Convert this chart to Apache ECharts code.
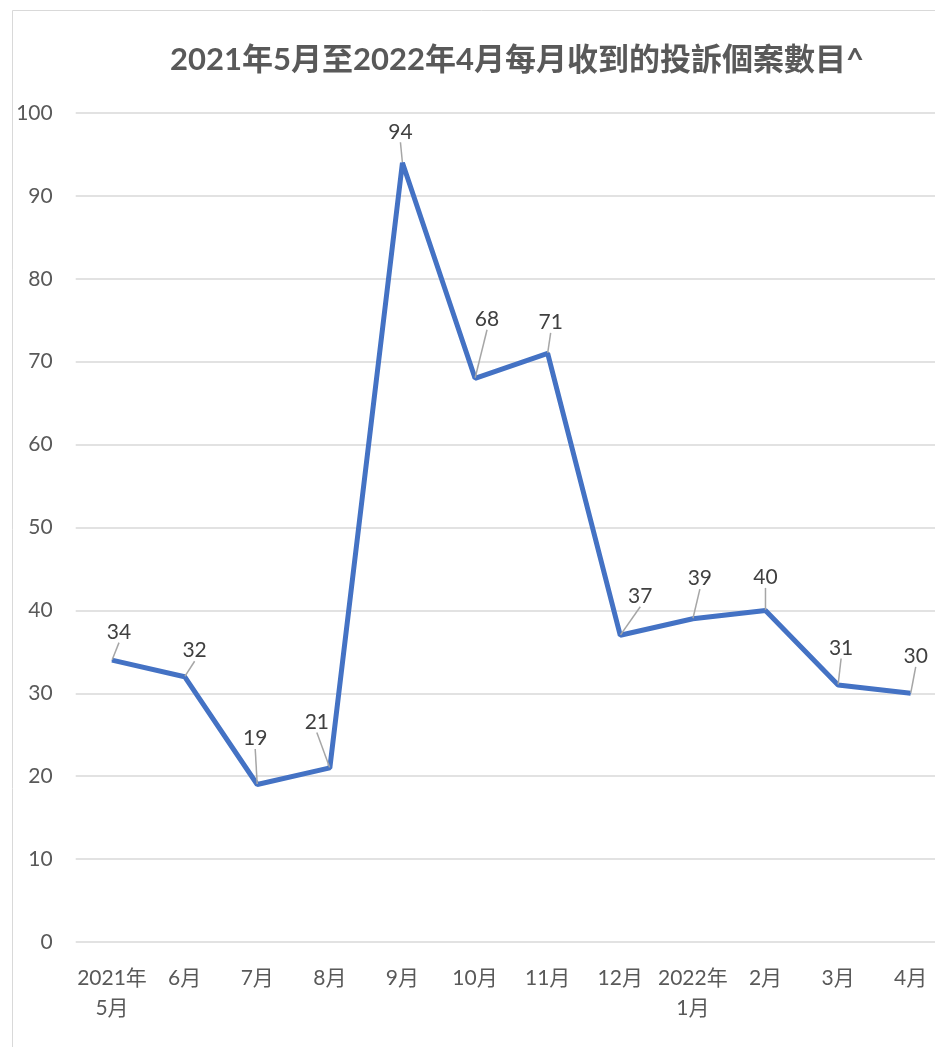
<!DOCTYPE html>
<html>
<head>
<meta charset="utf-8">
<script src="https://cdn.jsdelivr.net/npm/echarts@6/dist/echarts.min.js"></script>
<style>
html,body{margin:0;padding:0;background:#fff;overflow:hidden;width:935px;height:1047px;}
#chart{width:950px;height:1047px;}
</style>
</head>
<body>
<div id="chart"></div>
<script>
const titleText = '2021年5月至2022年4月每月收到的投訴個案數目^';
const categories = ['2021年\n5月','6月','7月','8月','9月','10月','11月','12月','2022年\n1月','2月','3月','4月'];
const values = [34, 32, 19, 21, 94, 68, 71, 37, 39, 40, 31, 30];
const yTicks = [0, 10, 20, 30, 40, 50, 60, 70, 80, 90, 100];

const FONT = "Lato, 'Noto Sans CJK TC', sans-serif";
const labelShift = [[7,-12],[10,-10],[-2,-30],[-13,-30],[-2,-15],[12,-43],[3,-15],[20,-23],[7,-24],[0,-17],[3,-21],[5,-21]];

const chart = echarts.init(document.getElementById('chart'), null, {renderer:'canvas'});
chart.setOption({
  animation: false,
  backgroundColor: '#fff',
  title: {
    text: titleText, left: 512, top: 40, textAlign: 'center',
    textStyle: {fontFamily: FONT, fontSize: 31, fontWeight: 'bold', color: '#595959'}
  },
  graphic: [{type:'rect', shape:{x:12.5,y:10.5,width:1000,height:1100}, style:{fill:'none', stroke:'#d9d9d9', lineWidth:1}, silent:true}],
  grid: {left: 75.7, right: 3, top: 113, bottom: 105, containLabel: false},
  xAxis: {
    type: 'category', data: categories, boundaryGap: true,
    axisLine: {show: false}, axisTick: {show: false},
    axisLabel: {fontFamily: FONT, fontSize: 21, color: '#595959', margin: 21, lineHeight: 30, interval: 0}
  },
  yAxis: {
    type: 'value', min: yTicks[0], max: yTicks[yTicks.length-1], interval: 10,
    axisLine: {show: false}, axisTick: {show: false},
    axisLabel: {fontFamily: FONT, fontSize: 21, color: '#595959', margin: 23},
    splitLine: {lineStyle: {color: '#d9d9d9', width: 1.5}}
  },
  series: [{
    type: 'line', data: values,
    symbol: 'circle', symbolSize: 1, showSymbol: true,
    itemStyle: {color: '#4472C4'},
    lineStyle: {color: '#4472C4', width: 5},
    label: {show: true, position: 'top', distance: 5, fontFamily: FONT, fontSize: 21, color: '#404040'},
    labelLine: {show: true, lineStyle: {color: '#a6a6a6', width: 1.5}},
    labelLayout: function (p) {
      const s = labelShift[p.dataIndex];
      return {dx: s[0], dy: s[1]};
    }
  }]
});
</script>
</body>
</html>
